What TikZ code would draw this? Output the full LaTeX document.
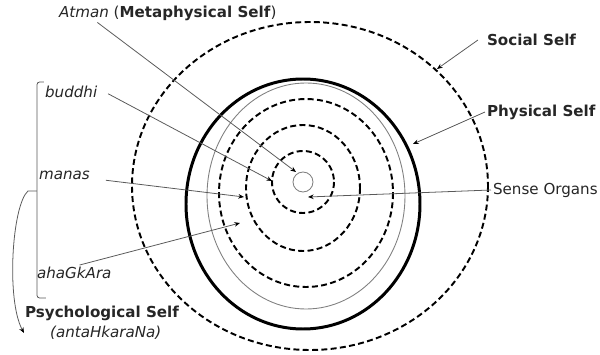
\documentclass[tikz,border=0pt]{standalone}
\usepackage{fontspec}
\setmainfont{DejaVu Sans}
\usetikzlibrary{arrows.meta}
\tikzset{
	ring/.style={line width=1.1pt, dash pattern=on 3.4pt off 1.9pt},
	leader/.style={gray!70!black, line width=0.45pt, -{Stealth[length=3.2pt,width=2.6pt,black]}},
	lbl/.style={anchor=west, inner sep=1pt, font=\fontsize{8.6}{10}\selectfont, text=black!85}
}

\begin{document}
\begin{tikzpicture}[x=0.02cm, y=-0.02cm]
				\useasboundingbox (0,0) rectangle (600,355);
				% Rings
				\draw[ring] (310,186) ellipse [x radius=178, y radius=164];
				\draw[line width=1.7pt] (303,204) ellipse [x radius=117, y radius=125];
				\draw[gray, line width=0.5pt] (306,196) ellipse [x radius=99, y radius=113];
				\foreach \cx/\cy/\rx/\ry in {306/193/87/94, 303/188/57/63, 303/182/31/31}
					\draw[ring] (\cx,\cy) ellipse [x radius=\rx, y radius=\ry];
				\draw[gray, line width=0.5pt] (303,182) circle [radius=10];
				% Labels
				\node[lbl] (atman) at (57,13) {\textit{Atman} (\textbf{Metaphysical Self})};
				\node[lbl] (social) at (485,40) {\textbf{Social Self}};
				\node[lbl] (physical) at (485,112) {\textbf{Physical Self}};
				\node[lbl] (sense) at (491,190) {Sense Organs};
				\node[lbl] (buddhi) at (43,92) {\textit{buddhi}};
				\node[lbl] (manas) at (37,175) {\textit{manas}};
				\node[lbl] (ahamkara) at (35,273) {\textit{ahaGkAra}};
				\node[lbl] (psych) at (23,313) {\textbf{Psychological Self}};
				\node[lbl] (antah) at (48,333) {\textit{(antaHkaraNa)}};
				% Arrow ends
				\coordinate (atmantip) at (296,172);
				\coordinate (buddhitip) at (272,181);
				\coordinate (manastip) at (244,197);
				\coordinate (ahamtip) at (240,223);
				\coordinate (socialtip) at (437,69);
				\coordinate (phystip) at (413,144);
				\coordinate (sensetip) at (308,197);
				\coordinate (psychtip) at (24,333);
				\coordinate (nub) at (37,191);
				% Leaders
				\draw[leader] ([xshift=23pt]atman.south west) -- (atmantip);
				\draw[leader] ([xshift=5pt,yshift=-1pt]buddhi.east) -- (buddhitip);
				\draw[leader] ([xshift=8pt,yshift=-3pt]manas.east) -- (manastip);
				\draw[leader] ([xshift=3pt]ahamkara.north) -- (ahamtip);
				\draw[leader] ([xshift=-4pt]social.west) -- (socialtip);
				\draw[leader] (physical.west) -- (phystip);
				\draw[leader] (sense.west) -- (sensetip);
				% Bracket
				\draw[gray!70!black, line width=0.45pt, rounded corners=1.5pt] (44,82) -| (37,298) -- (46,298);
				\draw[leader] (nub) -- (28,191) .. controls (12,205) and (6,300) .. (psychtip);
			\end{tikzpicture}
\end{document}
